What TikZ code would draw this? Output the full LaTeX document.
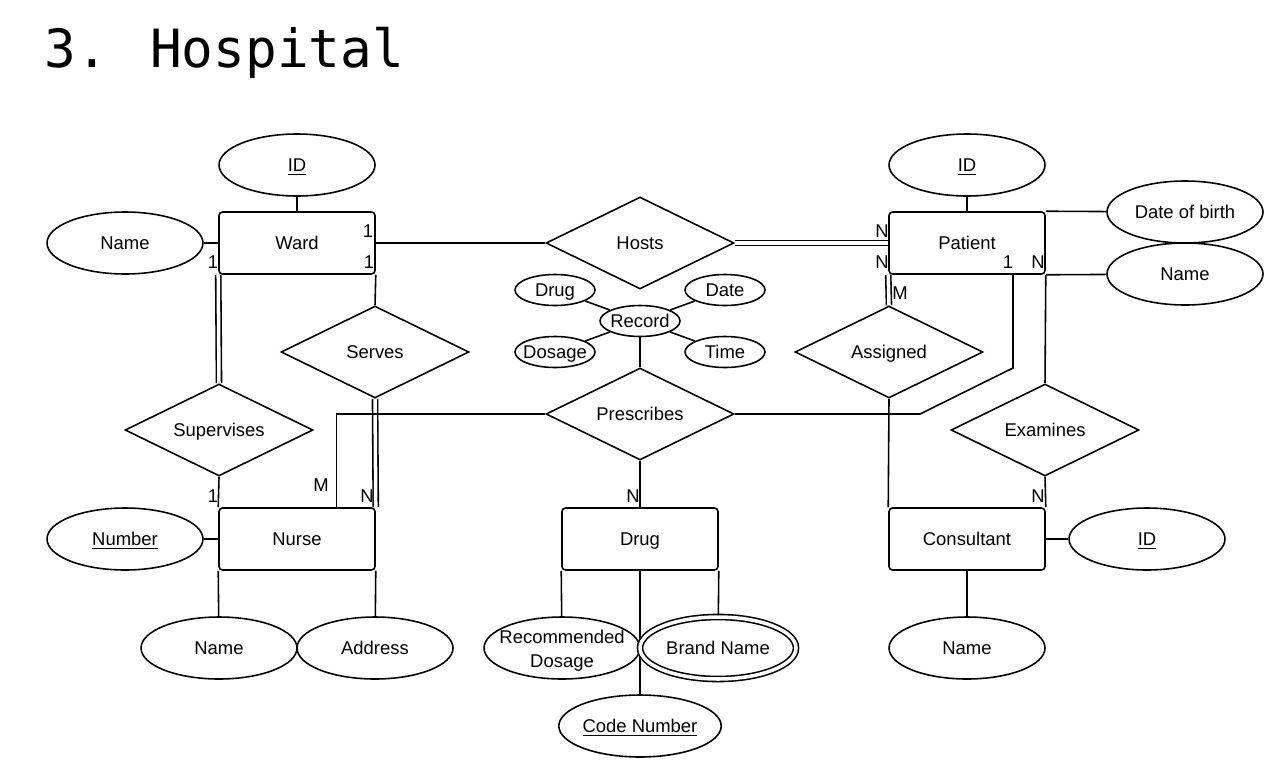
\documentclass[tikz,border=0pt]{standalone}
\usepackage{fontspec}
\setmainfont{Liberation Sans}
\newfontfamily\titlefont{DejaVu Sans Mono}
\usepackage{tikz}
\usetikzlibrary{shapes,positioning,backgrounds,calc}
\tikzstyle{entity} = [rectangle, rounded corners=2pt, minimum width=3.12cm, minimum height=1.24cm, text centered, text height=1.6ex, text depth=0.2ex, draw, line width=0.9pt]
\tikzstyle{attrib} = [ellipse, minimum width=3.12cm, minimum height=1.24cm, inner sep=0pt, align=center, text height=1.6ex, text depth=0.2ex, draw, line width=0.9pt]
\tikzstyle{smallattrib} = [ellipse, minimum width=1.6cm, minimum height=0.62cm, inner sep=0pt, inner xsep=-5pt, text height=1.6ex, text depth=0.2ex, draw, line width=0.9pt]
\tikzstyle{relation} = [diamond, shape aspect=2, minimum width=3.76cm, minimum height=1.84cm, inner sep=0pt, text height=1.6ex, text depth=0.2ex, draw, line width=0.9pt]
\tikzstyle{link} = [line width=0.9pt]
\tikzstyle{dbl} = [line width=0.9pt, double, double distance=2pt]
\tikzstyle{card} = [inner sep=0pt, text height=1.6ex, text depth=0.2ex]

\begin{document}
\begin{tikzpicture}[x=0.02cm, y=-0.02cm, font=\fontsize{10.5}{13.5}\selectfont]
\useasboundingbox (0,0) rectangle (1280,774);

% Title
\node[anchor=base west, inner sep=0pt, font=\titlefont\fontsize{30}{30}\selectfont] (title) at (44,67) {3. Hospital};

% Entities
\node[entity] (ward) at (297,243) {Ward};
\node[entity] (patient) at (967,243) {Patient};
\node[entity] (nurse) at (297,539) {Nurse};
\node[entity] (drug) at (640,539) {Drug};
\node[entity] (consultant) at (967,539) {Consultant};

% Relationships
\node[relation] (hosts) at (640,243) {Hosts};
\node[relation] (serves) at (375,352) {Serves};
\node[relation] (supervises) at (219,430) {Supervises};
\node[relation] (prescribes) at (640,414) {Prescribes};
\node[relation] (assigned) at (889,352) {Assigned};
\node[relation] (examines) at (1045,430) {Examines};

% Ward and patient attributes
\node[attrib] (wardid) at (297,165) {\underline{ID}};
\node[attrib] (wardname) at (125,243) {Name};
\node[attrib] (patientid) at (967,165) {\underline{ID}};
\node[attrib] (dob) at (1185,212) {Date of birth};
\node[attrib] (patientname) at (1185,274) {Name};

% Record of the prescription
\node[smallattrib] (record) at (640,321) {Record};
\node[smallattrib] (recdrug) at (555,290) {Drug};
\node[smallattrib] (recdate) at (725,290) {Date};
\node[smallattrib] (recdosage) at (555,352) {Dosage};
\node[smallattrib] (rectime) at (725,352) {Time};

% Nurse, drug and consultant attributes
\node[attrib] (number) at (125,539) {\underline{Number}};
\node[attrib] (nursename) at (219,648) {Name};
\node[attrib] (address) at (375,648) {Address};
\node[attrib, inner xsep=-0.4cm, inner ysep=-4pt, text height=, text depth=] (dosage) at (562,648) {\rule{0pt}{11pt}Recommended\\Dosage};
\node[attrib, double, double distance=2pt] (brandname) at (718,648) {Brand Name};
\node[attrib] (codenumber) at (640,726) {\underline{Code Number}};
\node[attrib] (consultantid) at (1147,539) {\underline{ID}};
\node[attrib] (consultantname) at (967,648) {Name};

\coordinate (pkink) at (1013,368);

% Connectors
\begin{scope}[on background layer]
\fill[white] (0,0) rectangle (1280,774);
\draw[link] (wardid) -- (ward);
\draw[link] (wardname) -- (ward);
\draw[link] (ward) -- (hosts);
\draw[dbl] (hosts) -- (patient);
\draw[dbl] (ward.south west) -- (supervises.north);
\draw[link] (ward.south east) -- (serves.north);
\draw[dbl] (serves.south) -- (nurse.north east);
\draw[link] (supervises.south) -- (nurse.north west);
\draw[link] (prescribes.west) -| ($(nurse.north west)!0.75!(nurse.north east)$);
\draw[link] (prescribes.east) -- (920,414) -- (pkink) -- (pkink |- patient.south);
\draw[link] (prescribes.south) -- (drug);
\draw[link] (record) -- (prescribes);
\draw[link] (record) -- (recdrug);
\draw[link] (record) -- (recdate);
\draw[link] (record) -- (recdosage);
\draw[link] (record) -- (rectime);
\draw[link] (patientid) -- (patient);
\draw[link] (patient.north east) -- (dob);
\draw[link] (patient.south east) -- (patientname);
\draw[dbl] (patient.south west) -- (assigned.north);
\draw[link] (assigned.south) -- (consultant.north west);
\draw[link] (patient.south east) -- (examines.north);
\draw[link] (examines.south) -- (consultant.north east);
\draw[link] (consultant) -- (consultantid);
\draw[link] (consultant) -- (consultantname);
\draw[link] (nurse) -- (number);
\draw[link] (nurse.south west) -- (nursename);
\draw[link] (nurse.south east) -- (address);
\draw[link] (drug.south west) -- (dosage);
\draw[link] (drug.south east) -- (brandname);
\draw[link] (drug) -- (codenumber);
\end{scope}

% Cardinalities
\node[card] (cwh) at (368,231) {1};
\node[card] (cws) at (369,262) {1};
\node[card] (cwv) at (213,262) {1};
\node[card] (cvn) at (213,496) {1};
\node[card] (cpn) at (321,485) {M};
\node[card] (csn) at (367,496) {N};
\node[card] (chp) at (882,231) {N};
\node[card] (cap) at (882,262) {N};
\node[card] (cam) at (900,293) {M};
\node[card] (cpp) at (1008,262) {1};
\node[card] (cep) at (1038,262) {N};
\node[card] (cec) at (1038,496) {N};
\node[card] (cpd) at (633,496) {N};
\end{tikzpicture}
\end{document}
